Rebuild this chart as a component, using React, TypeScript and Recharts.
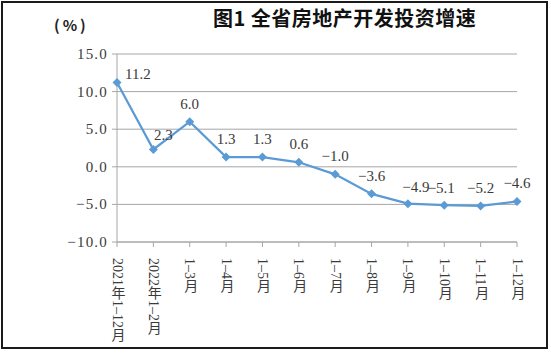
import React from 'react';
import { LineChart, Line, XAxis, YAxis, CartesianGrid } from 'recharts';

const categories = ['2021年1–12月', '2022年1–2月', '1–3月', '1–4月', '1–5月', '1–6月', '1–7月', '1–8月', '1–9月', '1–10月', '1–11月', '1–12月'];
const growth = [11.2, 2.3, 6.0, 1.3, 1.3, 0.6, -1.0, -3.6, -4.9, -5.1, -5.2, -4.6];
const yTicks = [-10, -5, 0, 5, 10, 15];

const data = categories.map((c, i) => ({ name: c, value: growth[i] }));

const SERIF = "'Liberation Serif', 'Noto Sans CJK SC', serif";
const TXT = '#3a3a3a';
const BLUE = '#5B9BD5';

const fmt = (v: number) => (v < 0 ? '−' + Math.abs(v).toFixed(1) : v.toFixed(1));

const XTick = (props: any) => {
  const { x, y, payload } = props;
  return (
    <text
      x={x}
      y={y + 9}
      textAnchor="start"
      fontSize={14}
      fill={TXT}
      fontFamily={SERIF}
      style={{ writingMode: 'vertical-rl' } as any}
    >
      {payload.value}
    </text>
  );
};

const YTick = (props: any) => {
  const { x, y, payload } = props;
  return (
    <text x={x - 2} y={y + 5} textAnchor="end" fontSize={15} fill={TXT} fontFamily={SERIF} letterSpacing={1.2}>
      {fmt(payload.value)}
    </text>
  );
};

const Diamond = (props: any) => {
  const { cx, cy } = props;
  if (cx == null || cy == null) return null;
  const r = 4.5;
  return <polygon points={`${cx},${cy - r} ${cx + r},${cy} ${cx},${cy + r} ${cx - r},${cy}`} fill={BLUE} />;
};

const nudges: Record<number, [number, number, 'start' | 'middle']> = {
  0: [8, -4, 'start'],
  1: [10, -10, 'middle'],
  8: [8, -12, 'middle'],
  9: [-3, -12, 'middle'],
};

const DataLabel = (props: any) => {
  const { x, y, value, index } = props;
  const [dx, dy, anchor] = nudges[index] ?? [0, -13, 'middle'];
  return (
    <text x={x + dx} y={y + dy} textAnchor={anchor} fontSize={15} fill={TXT} fontFamily={SERIF}>
      {fmt(value)}
    </text>
  );
};

export default function App() {
  return (
    <div style={{ position: 'absolute', left: 0, top: 0, width: 551, height: 353, background: '#fff' }}>
      <div
        style={{
          position: 'absolute',
          left: 1,
          top: 1,
          width: 543,
          height: 344,
          border: '2px solid #1a1a1a',
        }}
      />
      <div
        style={{
          position: 'absolute',
          left: 213,
          top: 4,
          fontSize: 20,
          fontWeight: 'bold',
          fontFamily: "'Noto Sans CJK SC', sans-serif",
          color: '#111',
          whiteSpace: 'nowrap',
          lineHeight: '28px',
          letterSpacing: 0.5,
        }}
      >
        图1 全省房地产开发投资增速
      </div>
      <div
        style={{
          position: 'absolute',
          left: 54,
          top: 15,
          fontSize: 15,
          fontWeight: 'bold',
          fontFamily: "'Noto Sans CJK SC', sans-serif",
          color: '#222',
          whiteSpace: 'nowrap',
          lineHeight: '20px',
          letterSpacing: 3,
        }}
      >
        (%)
      </div>
      <div style={{ position: 'absolute', left: 0, top: 0 }}>
        <LineChart width={551} height={353} data={data} margin={{ top: 54, right: 34, left: 57, bottom: 11 }}>
          <CartesianGrid vertical={false} stroke="#a6a6a6" strokeWidth={1} />
          <XAxis
            dataKey="name"
            scale="point"
            padding={{ left: 0, right: 0 }}
            interval={0}
            height={100}
            tick={<XTick />}
            axisLine={{ stroke: '#a6a6a6' }}
            tickLine={{ stroke: '#a6a6a6' }}
            tickSize={5}
          />
          <YAxis
            domain={[-10, 15]}
            ticks={yTicks}
            width={60}
            tick={<YTick />}
            axisLine={{ stroke: '#a6a6a6' }}
            tickLine={{ stroke: '#a6a6a6' }}
            tickSize={5}
            allowDataOverflow
          />
          <Line
            type="linear"
            dataKey="value"
            stroke={BLUE}
            strokeWidth={2.25}
            dot={<Diamond />}
            activeDot={false}
            isAnimationActive={false}
            label={<DataLabel />}
          />
        </LineChart>
      </div>
    </div>
  );
}
